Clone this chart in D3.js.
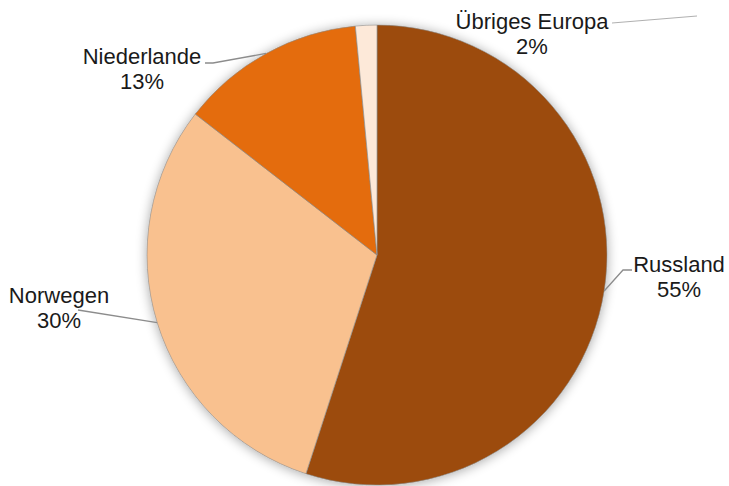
<!DOCTYPE html>
<html>
<head>
<meta charset="utf-8">
<script src="https://cdn.jsdelivr.net/npm/d3@7"></script>
<style>
  body { margin: 0; background: #fff; }
  svg { display: block; }
</style>
</head>
<body>
<div id="chart-area"></div>
<script>
// data
const countries = ["Russland", "Norwegen", "Niederlande", "Übriges Europa"]
const shares = [55, 30.5, 13, 1.5]
const shareLabels = ["55%", "30%", "13%", "2%"]
const colors = ["#9c4b0b", "#f9c18f", "#e46c0a", "#fde9d9"]

const svgWidth = 729
const svgHeight = 486
const cx = 377, cy = 255, radius = 230

// label anchor points (text centre, first baseline) and leader line ends on the label side
const labelPos = [
  { x: 679, y: 272, lx: [632, 623], ly: [270, 270] },
  { x: 59, y: 303, lx: [78], ly: [310] },
  { x: 142, y: 64, lx: [205, 213], ly: [63, 63] },
  { x: 532, y: 29, lx: [612], ly: [23] }
]

const dataset = countries.map((c, i) => ({ name: c, value: shares[i], label: shareLabels[i], color: colors[i], pos: labelPos[i] }))

const svg = d3.select("#chart-area")
  .append("svg")
  .attr("width", svgWidth)
  .attr("height", svgHeight)

const defs = svg.append("defs")
const shadow = defs.append("filter").attr("id", "shadow")
  .attr("x", "-20%").attr("y", "-20%").attr("width", "140%").attr("height", "140%")
shadow.append("feGaussianBlur").attr("in", "SourceAlpha").attr("stdDeviation", 6)
shadow.append("feOffset").attr("dx", 0).attr("dy", 1).attr("result", "blur")
shadow.append("feComponentTransfer").append("feFuncA").attr("type", "linear").attr("slope", 0.35)
const merge = shadow.append("feMerge")
merge.append("feMergeNode")
merge.append("feMergeNode").attr("in", "SourceGraphic")

const pie = d3.pie().sort(null).value(d => d.value)
const arcs = pie(dataset)

const arc = d3.arc().innerRadius(0).outerRadius(radius)

const chart = svg.append("g")
  .attr("transform", `translate(${cx},${cy})`)

chart.append("g")
  .attr("filter", "url(#shadow)")
  .selectAll("path")
  .data(arcs)
  .join("path")
  .attr("d", arc)
  .attr("fill", d => d.data.color)
  .attr("stroke", "#8a8a8a")
  .attr("stroke-width", 0.6)

// leader lines: from label to middle of the slice's outer edge
const edgePoint = d => {
  const a = (d.startAngle + d.endAngle) / 2
  return [cx + radius * Math.sin(a), cy - radius * Math.cos(a)]
}

svg.append("g")
  .attr("fill", "none")
  .attr("stroke", "#8c8c8c")
  .attr("stroke-width", 1.3)
  .selectAll("polyline")
  .data(arcs)
  .join("polyline")
  .attr("points", d => {
    const p = d.data.pos
    const pts = p.lx.map((x, i) => [x, p.ly[i]])
    // the small slice's line runs off to the right in the original
    const end = d.index === 3 ? [697, 16] : edgePoint(d)
    pts.push(end)
    return pts.map(q => q.join(",")).join(" ")
  })
  .attr("stroke", d => d.index === 3 ? "#b0b0b0" : "#8c8c8c")
  .attr("stroke-width", d => d.index === 3 ? 1 : 1.3)

const labels = svg.append("g")
  .attr("font-family", "'Liberation Sans', Arial, sans-serif")
  .attr("font-size", 22)
  .attr("fill", "#1a1a1a")
  .attr("text-anchor", "middle")
  .selectAll("text")
  .data(arcs)
  .join("text")
  .attr("x", d => d.data.pos.x)
  .attr("y", d => d.data.pos.y)

labels.append("tspan")
  .attr("x", d => d.data.pos.x)
  .text(d => d.data.name)

labels.append("tspan")
  .attr("x", d => d.data.pos.x)
  .attr("dy", 25)
  .text(d => d.data.label)
</script>
</body>
</html>
